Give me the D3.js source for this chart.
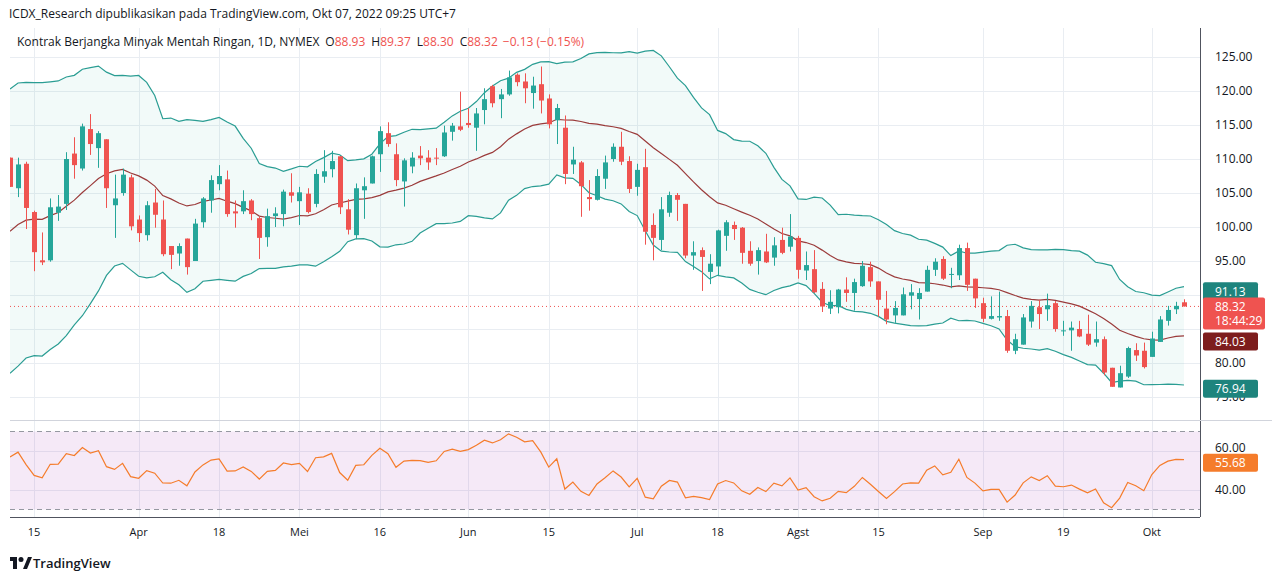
<!DOCTYPE html>
<html>
<head>
<meta charset="utf-8">
<script src="https://cdn.jsdelivr.net/npm/d3@7/dist/d3.min.js"></script>
<style>
  body { margin: 0; background: #fff; font-family: "Open Sans", "DejaVu Sans", sans-serif; }
  text { font-family: "Open Sans", "DejaVu Sans", sans-serif; }
</style>
</head>
<body>
<div id="chart"></div>
<script>
//Daily closes before the first visible candle (used to warm up the bands and RSI)
var priorCloses = [89.66, 89.88, 93.10, 95.46, 92.07, 93.66, 91.76, 91.07, 92.35, 92.10,
    92.81, 91.59, 95.72, 103.41, 110.60, 107.67, 115.68, 119.40, 123.70];

//Candles: open, high, low, close
var opens = [110.2,105.7,109.3,102.2,95.1,95.1,102.1,103.4,110.8,108.6,114.4,111.6,112.9,103.2,105.0,107.3,101.1,98.8,103.6,101.1,
    97.2,96.1,98.3,95.0,100.7,103.9,106.3,107.0,102.3,102.3,103.9,101.3,98.5,101.6,101.9,105.1,103.8,104.9,103.4,107.4,
    108.5,110.4,102.6,98.8,105.4,106.4,110.7,113.8,110.7,106.7,108.9,110.5,110.2,110.2,110.4,114.0,114.8,115.3,114.6,117.2,
    120.7,118.8,119.5,122.4,121.4,119.7,121.0,118.9,115.7,114.6,109.2,109.5,104.4,104.0,107.1,110.0,111.8,109.7,105.9,108.8,
    100.3,98.1,102.1,104.7,103.4,95.8,96.6,93.4,94.2,98.7,100.3,99.9,96.5,95.0,96.4,95.5,98.1,97.1,98.4,93.6,
    93.8,90.9,88.0,88.2,90.8,90.3,91.3,94.1,92.0,88.0,87.0,87.0,89.9,89.4,90.5,93.7,95.3,93.0,92.9,96.9,
    92.4,88.8,86.5,86.7,86.9,81.8,82.7,86.1,88.2,87.9,88.8,84.7,84.8,85.0,84.3,83.0,83.5,79.3,76.4,78.0,
    81.9,81.8,80.9,83.1,86.2,87.9,88.93];
var highs = [110.2,110.2,109.6,102.4,99.2,104.2,104.7,111.0,113.2,115.2,116.6,114.1,112.9,107.7,108.6,107.7,101.7,103.8,105.6,103.9,
    97.2,97.6,98.3,101.2,104.4,107.6,109.1,108.3,103.9,105.4,104.1,101.5,102.7,102.9,105.5,107.9,105.9,105.7,108.5,111.3,
    111.2,110.4,104.1,106.4,107.3,110.5,114.8,115.4,112.3,110.1,111.0,111.9,111.3,111.6,114.9,115.3,119.9,117.5,117.5,120.4,
    120.9,120.3,123.0,122.6,122.6,122.1,123.6,119.5,118.1,116.4,111.8,109.7,106.9,108.5,110.5,112.3,114.0,110.4,109.3,111.5,
    102.0,104.4,105.2,105.0,103.4,97.9,97.0,96.0,99.6,101.0,100.8,100.0,97.9,97.0,99.0,98.5,99.9,101.9,98.7,96.4,
    96.6,91.9,90.7,90.9,92.6,92.4,95.0,94.9,92.0,90.6,89.1,91.1,91.6,91.0,94.3,95.4,95.7,94.0,97.4,97.7,
    92.4,89.6,89.8,90.5,87.8,84.3,87.2,89.1,89.3,90.2,89.1,86.2,86.1,86.2,87.1,86.1,83.9,79.3,79.6,82.4,
    82.9,83.0,84.6,86.9,88.4,89.0,89.37];
var lows = [105.9,104.4,99.7,93.5,94.4,94.9,100.9,102.5,107.1,108.3,110.6,108.7,102.8,98.4,104.6,99.5,97.8,98.0,99.9,95.7,
    93.8,94.3,93.0,95.0,99.9,102.1,105.4,101.5,99.9,101.9,101.0,95.3,97.1,100.0,100.1,103.6,100.3,102.0,102.9,106.5,
    107.3,101.9,98.9,98.2,101.2,106.4,108.1,111.8,106.0,103.0,107.9,109.1,108.4,109.1,110.3,112.7,114.1,114.6,111.2,115.1,
    117.6,116.0,119.3,120.7,118.2,117.4,116.7,114.5,112.2,106.3,107.8,101.5,102.4,103.9,105.6,109.6,109.1,105.0,104.6,97.4,
    95.1,96.6,101.5,100.9,95.4,93.7,90.6,91.6,92.8,96.5,98.1,94.6,94.3,93.0,94.7,94.3,96.0,96.4,92.4,92.2,
    90.3,87.5,87.2,87.3,89.0,87.7,91.2,91.2,86.8,85.7,85.9,87.0,87.9,86.4,90.5,92.8,92.2,91.0,92.2,90.6,
    88.1,86.0,86.4,86.2,81.5,81.3,82.7,85.2,85.0,86.2,84.6,84.0,81.8,83.8,82.5,82.4,78.2,76.5,76.4,77.8,
    80.3,79.2,80.9,83.1,85.5,87.2,88.30];
var closes = [105.9,109.2,102.8,96.3,94.8,102.9,103.0,110.0,109.1,114.8,112.2,113.8,105.7,104.2,107.7,100.1,99.1,103.2,101.8,96.0,
    95.9,97.2,94.1,100.5,104.2,106.9,107.5,101.9,102.0,103.8,101.9,98.4,101.6,102.0,105.2,104.6,105.1,102.2,107.8,108.2,
    109.7,102.9,99.6,105.7,106.0,110.4,114.1,112.2,106.9,109.8,110.2,110.1,109.5,110.1,113.9,114.9,114.3,115.0,116.7,118.8,
    118.2,119.5,122.0,121.3,120.4,120.8,118.6,115.1,117.5,107.8,109.9,106.0,104.1,107.5,109.5,111.8,109.6,105.6,108.4,99.3,
    98.4,102.6,104.7,104.0,95.8,96.3,95.6,94.6,99.5,100.7,99.7,96.2,94.6,96.6,94.8,97.3,96.2,98.6,93.7,94.4,
    90.4,88.3,89.0,90.8,90.3,91.9,94.3,92.0,89.3,86.4,88.1,90.1,90.4,90.3,93.7,94.9,92.4,93.1,96.9,91.5,
    89.5,86.5,86.9,86.9,81.8,83.5,86.7,88.4,87.2,88.5,85.0,84.8,85.2,83.9,82.7,83.5,78.6,76.5,78.5,82.2,
    81.1,79.4,83.6,86.4,87.8,88.4,88.32];

//Time axis labels: bar index and text
var tickIndex = [3, 16, 26, 36, 46, 57, 67, 78, 88, 98, 108, 121, 131, 142];
var tickText = ["15", "Apr", "18", "Mei", "16", "Jun", "15", "Jul", "18", "Agst", "15", "Sep", "19", "Okt"];

var priceTicks = [75, 80, 85, 90, 95, 100, 105, 110, 115, 120, 125];
var hiddenTicks = [85, 90];
var rsiTicks = [40, 60];

//Last values shown on the scale
var bandLabels = [91.13, 84.03, 76.94];
var lastPrice = 88.32;
var lastRsiLabel = 55.68;

//Define SVG area
var svgWidth = 1280;
var svgHeight = 581;
var paneLeft = 10;
var paneRight = 1200;

var up = "#26a69a", down = "#ef5350";

var svg = d3.select("#chart").append("svg")
    .attr("width", svgWidth)
    .attr("height", svgHeight);

var data = opens.map(function(o, i) {
    return { i: i, open: o, high: highs[i], low: lows[i], close: closes[i] };
});

//Bollinger bands (20, 2) and RSI (14) on the closes
var allCloses = priorCloses.concat(closes);
var offset = priorCloses.length;
var bands = data.map(function(d, i) {
    var win = allCloses.slice(i + offset - 19, i + offset + 1);
    var m = d3.mean(win);
    var sd = Math.sqrt(d3.mean(win, v => (v - m) * (v - m)));
    return { i: i, mid: m, upper: m + 2 * sd, lower: m - 2 * sd };
});

var rsi = [];
var avgGain = 0, avgLoss = 0;
for (var k = 1; k < allCloses.length; k++) {
    var ch = allCloses[k] - allCloses[k - 1];
    var g = Math.max(ch, 0), l = Math.max(-ch, 0);
    if (k <= 14) {
        avgGain += g / 14; avgLoss += l / 14;
    } else {
        avgGain = (avgGain * 13 + g) / 14;
        avgLoss = (avgLoss * 13 + l) / 14;
    }
    if (k - offset >= 0) rsi.push({ i: k - offset, v: 100 - 100 / (1 + avgGain / avgLoss) });
}

//Scales
var x = d3.scaleLinear().domain([0, 146]).range([10, 1184]);
var y = d3.scaleLinear().domain([75, 125]).range([397, 57]);
var yr = d3.scaleLinear().domain([30, 70]).range([509.5, 431.5]);

var defs = svg.append("defs");
defs.append("clipPath").attr("id", "pane").append("rect")
    .attr("x", paneLeft).attr("y", 28).attr("width", paneRight - paneLeft).attr("height", 392);
defs.append("clipPath").attr("id", "rpane").append("rect")
    .attr("x", paneLeft).attr("y", 420).attr("width", paneRight - paneLeft).attr("height", 97);

//Grid
var grid = svg.append("g").attr("stroke", "#e9edf2").attr("stroke-width", 1);
grid.selectAll(".hg").data(priceTicks).enter().append("line")
    .attr("x1", paneLeft).attr("x2", paneRight)
    .attr("y1", d => Math.round(y(d)) + 0.5).attr("y2", d => Math.round(y(d)) + 0.5);
grid.selectAll(".rg").data(rsiTicks).enter().append("line")
    .attr("x1", paneLeft).attr("x2", paneRight)
    .attr("y1", d => Math.round(yr(d)) + 0.5).attr("y2", d => Math.round(yr(d)) + 0.5);
grid.selectAll(".vg").data(tickIndex).enter().append("line")
    .attr("x1", d => Math.round(x(d)) + 0.5).attr("x2", d => Math.round(x(d)) + 0.5)
    .attr("y1", 28).attr("y2", 517);

//Frame
svg.append("line").attr("x1", paneRight + 0.5).attr("x2", paneRight + 0.5).attr("y1", 28).attr("y2", 517).attr("stroke", "#50535e");
svg.append("line").attr("x1", paneLeft).attr("x2", paneRight).attr("y1", 517.5).attr("y2", 517.5).attr("stroke", "#50535e");
svg.append("line").attr("x1", paneLeft).attr("x2", 1272).attr("y1", 420.5).attr("y2", 420.5).attr("stroke", "#d1d4dc");

//Price pane
var price = svg.append("g").attr("clip-path", "url(#pane)");

price.append("path").datum(bands)
    .attr("fill", "rgba(34,171,148,0.06)")
    .attr("d", d3.area().x(d => x(d.i)).y0(d => y(d.lower)).y1(d => y(d.upper)));
["upper", "lower"].forEach(function(key) {
    price.append("path").datum(bands)
        .attr("fill", "none").attr("stroke", "#2a9d93").attr("stroke-width", 1.2)
        .attr("d", d3.line().x(d => x(d.i)).y(d => y(d[key])));
});
price.append("path").datum(bands)
    .attr("fill", "none").attr("stroke", "#9b3b3b").attr("stroke-width", 1.2)
    .attr("d", d3.line().x(d => x(d.i)).y(d => y(d.mid)));

price.append("line")
    .attr("x1", paneLeft).attr("x2", paneRight)
    .attr("y1", y(lastPrice)).attr("y2", y(lastPrice))
    .attr("stroke", down).attr("stroke-dasharray", "1,3");

price.selectAll(".wick").data(data).enter().append("line")
    .attr("x1", d => Math.round(x(d.i)) + 0.5).attr("x2", d => Math.round(x(d.i)) + 0.5)
    .attr("y1", d => y(d.high)).attr("y2", d => y(d.low))
    .attr("stroke", d => d.close >= d.open ? up : down);
price.selectAll(".body").data(data).enter().append("rect")
    .attr("x", d => Math.round(x(d.i)) - 2)
    .attr("width", 5)
    .attr("y", d => y(Math.max(d.open, d.close)))
    .attr("height", d => Math.max(1, Math.abs(y(d.open) - y(d.close))))
    .attr("fill", d => d.close >= d.open ? up : down);

//RSI pane
var rp = svg.append("g").attr("clip-path", "url(#rpane)");
rp.append("rect").attr("x", paneLeft).attr("width", paneRight - paneLeft)
    .attr("y", yr(70)).attr("height", yr(30) - yr(70))
    .attr("fill", "rgba(156,39,176,0.1)");
[70, 30].forEach(function(v) {
    rp.append("line").attr("x1", paneLeft).attr("x2", paneRight)
        .attr("y1", yr(v)).attr("y2", yr(v))
        .attr("stroke", "#9598a1").attr("stroke-dasharray", "5,4");
});
rp.append("path").datum(rsi)
    .attr("fill", "none").attr("stroke", "#f57c2b").attr("stroke-width", 1.2)
    .attr("d", d3.line().x(d => x(d.i)).y(d => yr(d.v)));

//Right axis labels
var axisText = svg.append("g").attr("font-size", 12).attr("fill", "#131722");
axisText.selectAll(".pt").data(priceTicks.filter(d => hiddenTicks.indexOf(d) < 0)).enter().append("text")
    .attr("x", 1215).attr("y", d => y(d) + 4).text(d => d.toFixed(2));
axisText.selectAll(".rt").data(rsiTicks).enter().append("text")
    .attr("x", 1215).attr("y", d => yr(d) + (d === 60 ? 1 : 4)).text(d => d.toFixed(2));

var labelFill = ["#1e847d", "#7d1d1d", "#1e847d"];
var labelNudge = [4, 6, 5];
bandLabels.forEach(function(v, i) {
    var cy = y(v) + labelNudge[i];
    svg.append("rect").attr("x", 1203).attr("y", cy - 9).attr("width", 55).attr("height", 18).attr("rx", 2).attr("fill", labelFill[i]);
    svg.append("text").attr("x", 1215).attr("y", cy + 4.5).attr("font-size", 12).attr("fill", "#fff").text(v.toFixed(2));
});
svg.append("rect").attr("x", 1203).attr("y", y(lastPrice) - 9).attr("width", 62).attr("height", 32).attr("rx", 2).attr("fill", down);
svg.append("text").attr("x", 1215).attr("y", y(lastPrice) + 4.5).attr("font-size", 12).attr("fill", "#fff").text(lastPrice.toFixed(2));
svg.append("text").attr("x", 1215).attr("y", y(lastPrice) + 18.5).attr("font-size", 12).attr("fill", "#fff").text("18:44:29");
var rsiY = yr(rsi[rsi.length - 1].v) + 3;
svg.append("rect").attr("x", 1203).attr("y", rsiY - 9).attr("width", 55).attr("height", 18).attr("rx", 2).attr("fill", "#f57c2b");
svg.append("text").attr("x", 1215).attr("y", rsiY + 4.5).attr("font-size", 12).attr("fill", "#fff").text(lastRsiLabel.toFixed(2));

//Time axis labels
svg.append("g").selectAll("text").data(tickIndex).enter().append("text")
    .attr("x", d => x(d)).attr("y", 536)
    .attr("text-anchor", "middle").attr("font-size", 11).attr("fill", "#131722")
    .text((d, i) => tickText[i]);

//Header and legend
svg.append("text").attr("x", 9).attr("y", 18).attr("font-size", 12).attr("fill", "#131722")
    .text("ICDX_Research dipublikasikan pada TradingView.com, Okt 07, 2022 09:25 UTC+7");

var legend = svg.append("text").attr("x", 17).attr("y", 46).attr("font-size", 12).attr("fill", "#131722");
legend.append("tspan").text("Kontrak Berjangka Minyak Mentah Ringan, 1D, NYMEX");
[["O", "88.93"], ["H", "89.37"], ["L", "88.30"], ["C", "88.32"]].forEach(function(p) {
    legend.append("tspan").attr("dx", 6).text(p[0]);
    legend.append("tspan").attr("fill", down).text(p[1]);
});
legend.append("tspan").attr("dx", 5).attr("fill", down).text("−0.13 (−0.15%)");

//TradingView mark
var logo = svg.append("g").attr("transform", "translate(10, 557)");
logo.append("rect").attr("x", 0).attr("y", 0).attr("width", 7).attr("height", 4).attr("fill", "#131722");
logo.append("rect").attr("x", 3).attr("y", 4).attr("width", 4).attr("height", 8).attr("fill", "#131722");
logo.append("circle").attr("cx", 11).attr("cy", 2.5).attr("r", 2.5).attr("fill", "#131722");
logo.append("path").attr("d", "M13,12 L18,0 L22,0 L17,12 Z").attr("fill", "#131722");
svg.append("text").attr("x", 33).attr("y", 568).attr("font-size", 13).attr("font-weight", 600).attr("fill", "#131722").text("TradingView");
</script>
</body>
</html>
